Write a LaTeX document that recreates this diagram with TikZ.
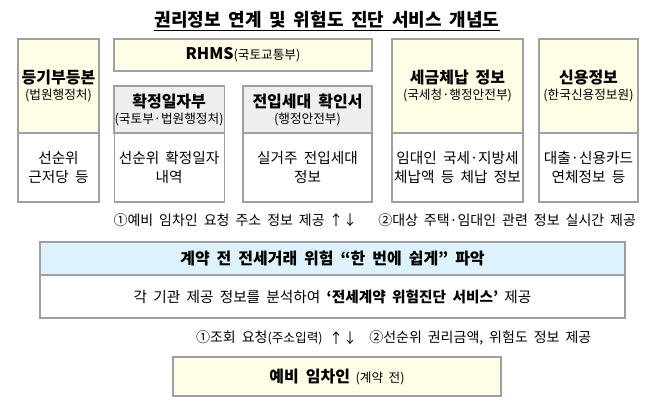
\documentclass[tikz,border=0pt]{standalone}
\usepackage{fontspec}
\setmainfont[WordSpace=1.9]{Noto Sans CJK KR}
\usetikzlibrary{positioning}
\definecolor{cream}{HTML}{FFFDE6}
\definecolor{paleg}{HTML}{EFEFEF}
\definecolor{paleb}{HTML}{DDF2FC}
\definecolor{boxline}{HTML}{A0A0A0}
\newcommand{\boxhead}[1]{{\bfseries\fontsize{12}{15.5}\selectfont #1}}
\newcommand{\boxsrc}[1]{{\fontsize{9.5}{12}\selectfont #1}}
\begin{document}
\begin{tikzpicture}[x=0.75pt,y=-0.75pt,
    box/.style={draw=boxline,line width=0.9pt,outer sep=0pt,inner sep=0.5pt,align=center,anchor=north west},
    yel/.style={box,fill=cream},
    gry/.style={box,fill=paleg},
    blu/.style={box,fill=paleb},
    wht/.style={box,fill=white,font=\fontsize{11}{14.25}\selectfont},
    lbl/.style={inner sep=0pt,font=\fontsize{10.5}{12}\selectfont}]
  \useasboundingbox (0,0) rectangle (655,410);
  \node[font=\bfseries\fontsize{13.5}{16}\selectfont] (title) at (327,21) {\underline{권리정보 연계 및 위험도 진단 서비스 개념도}};

  \node[yel,minimum width=60.75pt,minimum height=70.5pt] (reg) at (18,39) {\boxhead{등기부등본}\\\boxsrc{(법원행정처)}};
  \node[wht,minimum width=60.75pt,minimum height=51.75pt,below=0pt of reg] (regtxt) {선순위\\근저당 등};

  \node[yel,minimum width=193.5pt,minimum height=24pt] (rhms) at (114,39) {\boxhead{RHMS}\boxsrc{(국토교통부)}};
  \node[gry,minimum width=82.5pt,minimum height=35.25pt] (fix) at (114,86) {\boxhead{확정일자부}\\\boxsrc{(국토부·법원행정처)}};
  \node[wht,minimum width=82.5pt,minimum height=51.75pt,below=0pt of fix] (fixtxt) {선순위 확정일자\\내역};
  \node[gry,minimum width=96.75pt,minimum height=35.25pt] (move) at (243,86) {\boxhead{전입세대 확인서}\\\boxsrc{(행정안전부)}};
  \node[wht,minimum width=96.75pt,minimum height=51.75pt,below=0pt of move] (movetxt) {실거주 전입세대\\정보};

  \node[yel,minimum width=98.25pt,minimum height=70.5pt] (tax) at (392,39) {\boxhead{세금체납 정보}\\\boxsrc{(국세청·행정안전부)}};
  \node[wht,minimum width=98.25pt,minimum height=51.75pt,below=0pt of tax] (taxtxt) {임대인 국세·지방세\\체납액 등 체납 정보};
  \node[yel,minimum width=74.25pt,minimum height=70.5pt] (cred) at (539,39) {\boxhead{신용정보}\\\boxsrc{(한국신용정보원)}};
  \node[wht,minimum width=74.25pt,minimum height=51.75pt,below=0pt of cred] (credtxt) {대출·신용카드\\연체정보 등};

  \node[lbl,anchor=east] (ask1) at (325,220) {①예비 임차인 요청 주소 정보 제공};
  \node[lbl] (arr1) at (343,220) {↑↓};
  \node[lbl,anchor=west] (give1) at (378,220) {②대상 주택·임대인 관련 정보 실시간 제공};

  \node[blu,minimum width=438.75pt,minimum height=24.75pt] (svc) at (40,242) {\boxhead{계약 전 전세거래 위험 “한 번에 쉽게” 파악}};
  \node[wht,minimum width=438.75pt,minimum height=32.25pt,below=0pt of svc] (svctxt) {각 기관 제공 정보를 분석하여 {\bfseries ‘전세계약 위험진단 서비스’} 제공};

  \node[lbl,anchor=east] (ask2) at (323,338) {①조회 요청\boxsrc{(주소입력)}};
  \node[lbl] (arr2) at (343,338) {↑↓};
  \node[lbl,anchor=west] (give2) at (369,338) {②선순위 권리금액, 위험도 정보 제공};

  \node[yel,minimum width=246pt,minimum height=29.25pt] (user) at (173,357) {\boxhead{예비 임차인} \boxsrc{(계약 전)}};
\end{tikzpicture}
\end{document}
